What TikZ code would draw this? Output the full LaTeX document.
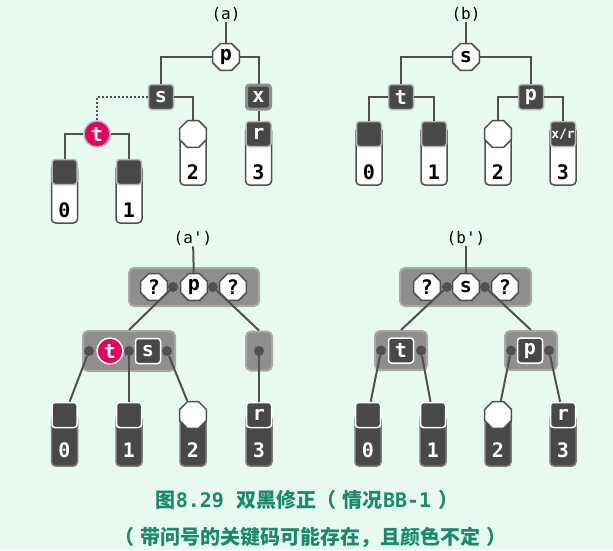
\documentclass[tikz,border=0pt]{standalone}
\usepackage{fontspec}
\usetikzlibrary{shapes.geometric}
\newfontfamily\monof{DejaVu Sans Mono}
\newfontfamily\cjkf{Noto Sans CJK SC}
\definecolor{bg}{HTML}{E8FAF0}
\definecolor{ln}{HTML}{505050}
\definecolor{dk}{HTML}{484848}
\definecolor{halo}{HTML}{B8B8B8}
\definecolor{mag}{HTML}{E8005A}
\definecolor{boxg}{HTML}{8E8E8E}
\definecolor{boxr}{HTML}{A8A8A8}
\definecolor{dbord}{HTML}{7C7C7C}
\definecolor{capc}{HTML}{1A8A6C}
\begin{document}
\begin{tikzpicture}[x=1pt,y=-1pt,
  conn/.style={draw=ln, line width=2pt},
  dconn/.style={conn, dash pattern=on 2pt off 2pt},
  lab/.style={font=\monof\bfseries\fontsize{20}{20}\selectfont},
  ttl/.style={font=\monof\fontsize{16}{16}\selectfont, text=black, inner sep=1pt},
  oct/.style={regular polygon, regular polygon sides=8,
    minimum size=29pt, inner sep=0pt, fill=white, draw=ln, line width=1.5pt, lab, text=black},
  darksq/.style={rectangle, minimum size=25pt, inner sep=0pt, rounded corners=3pt,
    fill=dk, draw=halo, line width=1.5pt, text=white, lab},
  xsq/.style={darksq, draw=boxg, line width=3pt, minimum size=24pt},
  wsq/.style={darksq, draw=white},
  tcirc/.style={circle, minimum size=26pt, inner sep=0pt, fill=mag, draw=halo,
    line width=1.5pt, text=white, lab},
  wtcirc/.style={tcirc, draw=white},
  lbody/.style={rectangle, minimum width=26pt, minimum height=58pt, inner sep=0pt,
    rounded corners=4pt, fill=white, draw=ln, line width=1.5pt},
  dbody/.style={rectangle, minimum width=26pt, minimum height=51pt, inner sep=0pt,
    rounded corners=4pt, fill=dk, draw=dbord, line width=1.5pt},
  dot/.style={circle, minimum size=10pt, inner sep=0pt, fill=ln},
  grp/.style={rectangle, inner sep=0pt, rounded corners=5pt, fill=boxg, draw=boxr, line width=2pt},
  capt/.style={font=\cjkf\bfseries\fontsize{20}{20}\selectfont, text=capc, inner sep=0pt}
]
\fill[bg] (0,0) rectangle (613,550);
\useasboundingbox (0,0) rectangle (613,550);

% ================= (a) =================
\node[ttl] (la) at (226,14) {(a)};
\node[oct] (pa) at (226,57) {p};
\node[darksq] (sa) at (161,97) {s};
\node[xsq] (xa) at (258.5,97) {x};
\node[tcirc] (ta) at (97,134) {t};
% leaves
\node[lbody] (a0b) at (64.5,194) {};
\node[lab] at (64.5,210) {0};
\node[darksq] (a0) at (64.5,172) {};
\node[lbody] (a1b) at (129,194) {};
\node[lab] at (129,210) {1};
\node[darksq] (a1) at (129,172) {};
\node[lbody] (a2b) at (193,156) {};
\node[lab] at (193,172) {2};
\node[oct] (a2) at (193,134) {};
\node[lbody] (a3b) at (258.5,156) {};
\node[lab] at (258.5,172) {3};
\node[darksq] (a3) at (258.5,134) {r};
% connectors
\draw[conn] (la) -- (pa);
\draw[conn] (pa) -| (sa);
\draw[conn] (pa) -| (xa);
\draw[conn] (xa) -- (a3);
\draw[dconn] (sa) -| (ta);
\draw[conn] (sa) -| (a2);
\draw[conn] (ta) -| (a0);
\draw[conn] (ta) -| (a1);

% ================= (b) =================
\node[ttl] (lb) at (466,14) {(b)};
\node[oct] (sb) at (466,57) {s};
\node[darksq] (tb) at (401,97) {t};
\node[darksq] (pb) at (531,97) {p};
\node[lbody] (b0b) at (369,156) {};
\node[lab] at (369,172) {0};
\node[darksq] (b0) at (369,134) {};
\node[lbody] (b1b) at (434,156) {};
\node[lab] at (434,172) {1};
\node[darksq] (b1) at (434,134) {};
\node[lbody] (b2b) at (498,156) {};
\node[lab] at (498,172) {2};
\node[oct] (b2) at (498,134) {};
\node[lbody] (b3b) at (563,156) {};
\node[lab] at (563,172) {3};
\node[darksq, font=\monof\bfseries\fontsize{13}{13}\selectfont] (b3) at (563,134) {x/r};
\draw[conn] (lb) -- (sb);
\draw[conn] (sb) -| (tb);
\draw[conn] (sb) -| (pb);
\draw[conn] (tb) -| (b0);
\draw[conn] (tb) -| (b1);
\draw[conn] (pb) -| (b2);
\draw[conn] (pb) -| (b3);

% ================= (a') =================
\node[ttl] (lc) at (193,238) {(a')};
\node[grp, minimum width=130pt, minimum height=38pt] (c1) at (194,287) {};
\node[grp, minimum width=92pt, minimum height=40pt] (c2) at (129,351) {};
\node[grp, minimum width=26pt, minimum height=39pt] (c3) at (259,351) {};
\node[oct] (cq1) at (154,287) {?};
\node[dot] (cd1) at (173,287) {};
\node[oct] (cp) at (194,287) {p};
\node[dot] (cd2) at (213,287) {};
\node[oct] (cq2) at (233,287) {?};
\node[dot] (ce1) at (89,351) {};
\node[wtcirc] (ct) at (110,351) {t};
\node[dot] (ce2) at (129,351) {};
\node[wsq] (cs) at (148,351) {s};
\node[dot] (ce3) at (167,351) {};
\node[dot] (ce4) at (259,351) {};
% leaves
\node[dbody] (c0b) at (64.5,440.5) {};
\node[lab, text=white] at (64.5,450) {0};
\node[wsq] (c0) at (64.5,415) {};
\node[dbody] (c1b) at (129,440.5) {};
\node[lab, text=white] at (129,450) {1};
\node[wsq] (cl1) at (129,415) {};
\node[dbody] (c2b) at (193,440.5) {};
\node[lab, text=white] at (193,450) {2};
\node[oct] (cl2) at (193,415) {};
\node[dbody] (c3b) at (259,440.5) {};
\node[lab, text=white] at (259,450) {3};
\node[wsq] (cl3) at (259,415) {r};
\draw[conn] (lc) -- (cp);
\draw[conn] (cd1) -- (c2.north);
\draw[conn] (cd2) -- (c3.north);
\draw[conn] (ce1) -- (c0);
\draw[conn] (ce2) -- (cl1);
\draw[conn] (ce3) -- (cl2);
\draw[conn] (ce4) -- (cl3);

% ================= (b') =================
\node[ttl] (ld) at (466,238) {(b')};
\node[grp, minimum width=131pt, minimum height=38pt] (d1) at (465.5,287) {};
\node[grp, minimum width=52pt, minimum height=39pt] (d2) at (401,350.5) {};
\node[grp, minimum width=52pt, minimum height=39pt] (d3) at (531,350.5) {};
\node[oct] (dq1) at (427,287) {?};
\node[dot] (dd1) at (447,287) {};
\node[oct] (ds) at (466,287) {s};
\node[dot] (dd2) at (485,287) {};
\node[oct] (dq2) at (505,287) {?};
\node[dot] (de1) at (381,350.5) {};
\node[wsq] (dt) at (401,350.5) {t};
\node[dot] (de2) at (421,350.5) {};
\node[dot] (de3) at (511,350.5) {};
\node[wsq] (dp) at (530,350.5) {p};
\node[dot] (de4) at (549,350.5) {};
% leaves
\node[dbody] (d0b) at (368,440.5) {};
\node[lab, text=white] at (368,450) {0};
\node[wsq] (dl0) at (368,415) {};
\node[dbody] (d1b) at (433,440.5) {};
\node[lab, text=white] at (433,450) {1};
\node[wsq] (dl1) at (433,415) {};
\node[dbody] (d2b) at (498,440.5) {};
\node[lab, text=white] at (498,450) {2};
\node[oct] (dl2) at (498,415) {};
\node[dbody] (d3b) at (563,440.5) {};
\node[lab, text=white] at (563,450) {3};
\node[wsq] (dl3) at (563,415) {r};
\draw[conn] (ld) -- (ds);
\draw[conn] (dd1) -- (d2.north);
\draw[conn] (dd2) -- (d3.north);
\draw[conn] (de1) -- (dl0);
\draw[conn] (de2) -- (dl1);
\draw[conn] (de3) -- (dl2);
\draw[conn] (de4) -- (dl3);

% ================= caption =================
\node[capt] (cap1) at (307,500) {图{\monof\bfseries 8.29}\hspace{0.6em}双黑修正（\hspace{0.35em}情况{\monof\bfseries BB-1}\hspace{0.35em}）};
\node[capt] (cap2) at (310,537) {（\hspace{0.3em}带问号的关键码可能存在，且颜色不定\hspace{0.3em}）};
\end{tikzpicture}
\end{document}
